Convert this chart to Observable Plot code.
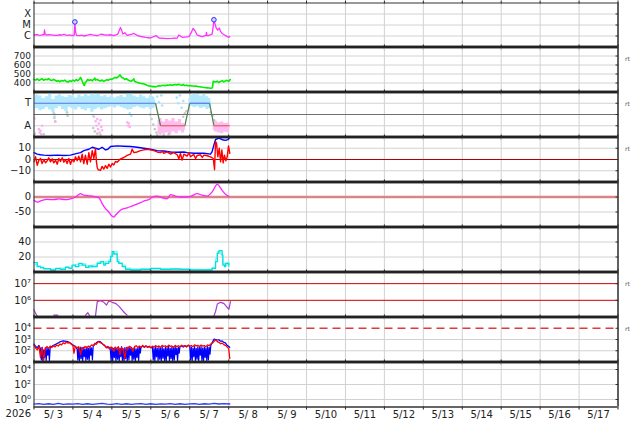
<!DOCTYPE html>
<html><head><meta charset="utf-8">
<script src="https://cdn.jsdelivr.net/npm/d3@7"></script>
<script src="https://cdn.jsdelivr.net/npm/@observablehq/plot@0.6"></script>
<style>
html,body{margin:0;padding:0;background:#fff;}
#chart{position:relative;width:634px;height:424px;overflow:hidden;font-family:"DejaVu Sans",sans-serif;}
</style></head><body><div id="chart"></div>
<script>
// ---------- data (hours since 2026-05-03 00:00 UTC, value) ----------
const dayLabels = ["5/ 3","5/ 4","5/ 5","5/ 6","5/ 7","5/ 8","5/ 9","5/10","5/11","5/12","5/13","5/14","5/15","5/16","5/17"];
const yearLabel = "2026";

const xrayTicks = [1e-4, 1e-5, 1e-6], xrayLabels = ["X","M","C"];
const xray = [[0,1.2e-6],[1,1.35e-6],[2,1.3e-6],[3,1.2e-6],[4,1.15e-6],[5,1.3e-6],[6.1,1.3e-6],[6.5,3.5e-6],[6.9,1.4e-6],[7.7,1.2e-6],[9,1.3e-6],[11,1.25e-6],[12.5,1.15e-6],[14.3,1.15e-6],[16,1.3e-6],[17,1.2e-6],[18.4,1.4e-6],[20.4,1.15e-6],[22,1.25e-6],[23.5,1.07e-6],[24.8,1.2e-6],[25.2,1.9e-5],[25.6,2.5e-6],[26.2,1.15e-6],[28,1.1e-6],[29.5,1.2e-6],[30.7,1.0e-6],[33,1.2e-6],[34.8,1.4e-6],[36,1.25e-6],[37,1.2e-6],[39,1.07e-6],[40.5,1.3e-6],[41.4,1.5e-6],[43,1.3e-6],[45.1,1.2e-6],[47,1.3e-6],[49.2,1.07e-6],[51.7,1.5e-6],[52.5,3e-6],[53.3,6.1e-6],[54.1,3e-6],[54.8,1.5e-6],[56,2.0e-6],[57.4,1.15e-6],[59,1.3e-6],[60.5,1.5e-6],[61.6,1.7e-6],[63.6,1.15e-6],[66,9e-7],[68.7,7.6e-7],[71.8,6.6e-7],[75.3,1.07e-6],[77,6.6e-7],[80,6e-7],[82.1,5.7e-7],[85,6e-7],[88.3,6.6e-7],[89.3,1.23e-6],[91.3,7.6e-7],[93,8e-7],[95.5,8.7e-7],[96.9,2e-6],[98.1,5e-6],[99.2,3e-6],[100.6,1.23e-6],[103.7,8.7e-7],[106,1.15e-6],[106.3,2.1e-6],[106.6,1.1e-6],[107.4,1.07e-6],[109.8,1.5e-6],[110.5,8e-6],[110.9,3.0e-5],[111.5,1.4e-5],[112.3,5.3e-6],[113.3,3.5e-6],[114.2,5.3e-6],[115,2.6e-6],[116,1.7e-6],[118.1,1.07e-6],[120.1,7.6e-7],[120.7,8.7e-7]];
const flares = [[25.2,1.9e-5],[110.9,3.0e-5]];

const windTicks = [400,500,600,700];
const wind = [[0,440],[1,432],[2,446],[3,428],[4,438],[5,447],[6,430],[7,441],[8,436],[9,449],[10,433],[11,427],[12,440],[13,430],[14,419],[15,426],[16,414],[17,428],[18,421],[19,432],[20,416],[21,410],[22,424],[23,418],[24,432],[25,420],[26,438],[27,425],[28,442],[28.7,462],[29.5,430],[30.3,395],[31,372],[31.6,405],[32.5,420],[33,440],[34,428],[35,436],[36,424],[37,445],[37.5,455],[38,432],[39,440],[40,427],[41,422],[42,433],[43,418],[44,428],[45,437],[46,431],[47,444],[48,440],[49,452],[50,462],[51,456],[52,470],[53,490],[53.5,478],[54,462],[55,455],[56,440],[57,448],[58,432],[59,425],[60,420],[61,436],[61.5,446],[62,420],[63,410],[64,404],[65,400],[66,395],[67,393],[68,388],[69,380],[70,373],[71,368],[72,364],[73,360],[74,362],[75,357],[76,365],[77,370],[78,367],[79,372],[80,374],[81,370],[82,378],[83,375],[84,380],[85,376],[86,379],[87,383],[88,378],[89,386],[90,380],[91,376],[92,382],[93,372],[94,376],[95,370],[96,373],[97,368],[98,366],[99,363],[100,366],[101,360],[102,358],[103,355],[104,352],[105,350],[106,348],[107,346],[108,344],[109,342],[110,348],[110.5,420],[111,415],[112,412],[113,420],[114,405],[115,418],[116,426],[117,412],[118,423],[119,430],[120,418],[121,438]];

const sectorTicks = [1,-1], sectorLabels = ["T","A"];
const sectorPts = [[0,1],[74.9,1],[78,-1],[93,-1],[96,1],[108.2,1],[110.9,-1],[120.7,-1]];
const blueBand1 = [[0,0.39,1.52],[2,0.54,1.73],[4,0.33,1.64],[6,0.45,1.43],[8,0.63,1.58],[10,0.39,1.82],[12,0.15,1.34],[14,0.54,1.64],[16,0.68,1.76],[18,0.45,1.58],[20,0.24,1.52],[22,0.63,1.70],[24,0.51,1.64],[26,0.39,1.46],[28,0.63,1.73],[30,0.45,1.58],[32,0.33,1.82],[34,0.54,1.64],[36,0.21,1.88],[38,0.45,1.73],[40,0.57,1.82],[42,0.39,1.58],[44,0.51,1.70],[46,0.63,1.52],[48,0.69,1.64],[50,0.57,1.46],[52,0.74,1.58],[54,0.63,1.70],[56,0.51,1.52],[58,0.39,1.82],[60,0.45,1.88],[62,0.63,1.64],[64,0.69,1.52],[66,0.57,1.73],[68,0.51,1.58],[70,0.63,1.43],[72,0.45,1.64],[74,0.54,1.52],[75,0.69,1.28]];
const blueBand2 = [[95.5,0.69,1.43],[97,0.74,1.73],[99,0.63,1.88],[101,0.69,1.76],[103,0.54,1.64],[105,0.63,1.82],[107,0.45,1.58],[108.5,0.54,1.43],[109.5,0.39,1.13]];
const pinkBand1 = [[76.5,-1.70,-0.51],[78,-1.85,-0.36],[80,-1.70,-0.66],[82,-1.64,-0.45],[84,-1.82,-0.57],[86,-1.55,-0.36],[88,-1.70,-0.66],[90,-1.46,-0.45],[92,-1.64,-0.80],[93.5,-1.40,-0.95]];
const pinkBand2 = [[110.5,-1.40,-0.66],[112,-1.55,-0.57],[114,-1.64,-0.74],[116,-1.70,-0.66],[118,-1.58,-0.80],[120,-1.64,-0.74],[120.7,-1.55,-0.80]];
const blueDots = [[71,1.2],[72,0.9],[73,1.5],[76,1.6],[77,1.1],[78.5,1.7],[79,0.8],[88,1.5],[89,1.0],[90,1.7],[91,0.6],[92,1.2],[12.5,-0.2],[13,0.0],[20.2,0.0],[36.5,-0.1],[59,0.1],[60,-0.1]];
const pinkDots = [[0.3,-0.36],[3,-1.3],[3.5,-1.6],[4,-1.45],[4.5,-1.75],[5,-1.0],[37,-0.2],[38,-0.6],[38.5,-1.0],[39,-0.4],[39.5,-1.3],[40,-0.8],[40.5,-1.6],[41,-0.5],[41.5,-1.1],[42,-1.4],[57.5,-0.7],[58,-1.0],[58.5,-0.8],[59,-1.1],[13.2,-0.65]];
const grayDots = [[12.2,0.1],[12.6,-0.3],[13,-0.6],[20.4,0.2],[20.8,-0.1],[36.5,-1.2],[37.5,-1.5],[39,-1.7],[41,-1.8],[71.5,0.0],[72.5,-0.4],[73.5,-0.9],[74.5,-1.3],[75.5,-1.6],[76,-1.8],[80,-1.8],[83,-1.75],[92,-0.2],[93,0.1],[94,0.3],[109,0.2],[110,-0.1],[111,-0.5],[0.5,-1.7],[6,-1.75]];

const imfTicks = [10,0,-10], imfLabels = ["10","0","\u221210"];
const bt = [[0,6.1],[2,4.8],[4,4.2],[6.1,3.9],[10.2,3.6],[14.3,3.9],[18.4,3.6],[22.5,3.9],[26.6,5.5],[28.7,6.1],[30.7,7.9],[33.8,9.1],[35.9,10.9],[37.9,10],[40,9.1],[42,10.9],[44.1,8.5],[45.5,9.1],[47.2,11.5],[51.3,12.1],[55.4,11.8],[59.5,11.5],[63.6,10.9],[67.7,10],[71.8,9.1],[75.9,7.9],[80,7.6],[84.2,6.7],[88.3,6.4],[92.4,6.7],[94.4,6.1],[98.5,5.5],[104.7,5.5],[108.8,4.8],[109.8,7],[110.9,13],[111.9,17.6],[114,19.1],[116,17.6],[118.1,17],[119.5,17.6],[120.7,19.8]];
const bz = [[0,-2.1],[1,2.4],[2,-5.2],[3,-0.6],[4,0.9],[5,-3.6],[6.1,0],[7.1,-3],[8.1,-1.2],[9.1,1.5],[10.2,-2.1],[11.2,0.6],[12.2,-3],[13.3,-0.6],[14.3,-4.2],[15.3,0.9],[16.3,-1.8],[17.4,1.5],[18.4,-2.4],[19.4,0],[20.4,-3.6],[21.5,0.9],[22.5,-4.2],[23.5,0],[24.6,-2.1],[25.6,2.4],[26.6,-1.2],[27.6,3],[28.7,-2.1],[29.7,4.8],[30.7,-3.6],[31.7,3.9],[32.8,-4.2],[33.8,6.1],[34.8,-2.1],[35.9,7.9],[36.9,0.9],[37.9,9.7],[38.5,-2.1],[39,-7.3],[39.6,-9.1],[41,-9.7],[42,-6.1],[43,-8.5],[44.1,-5.5],[45.1,-7.9],[46.1,-4.2],[47.2,-6.7],[48.2,-3.6],[49.2,-4.8],[50.2,-1.8],[51.3,-2.4],[53.3,0.6],[55.4,1.8],[57.4,3.6],[59.5,4.8],[60.5,9.1],[61.6,6.1],[63.6,6.7],[65.7,7.9],[67.7,8.5],[69.8,9.1],[71.8,8.5],[73.9,7.9],[75.9,6.7],[78,6.1],[79,7.3],[80,5.5],[82.1,6.7],[84.2,4.8],[86.2,6.1],[88.3,4.2],[89.3,0.6],[90.3,5.5],[91.3,-0.6],[92.4,4.8],[94.4,3],[95.5,6.1],[96.5,2.4],[98.5,4.5],[99.6,0.9],[100.6,3.6],[102.6,4.2],[103.7,1.8],[104.7,3.9],[106.8,3.3],[108.8,2.4],[110.5,0.9],[111.3,-9.1],[111.9,16],[112.5,14.5],[113.3,2.4],[114.2,10],[115,-2.1],[115.8,8.5],[116.6,-3],[117.4,3.9],[118.3,-1.2],[119.1,2.4],[119.9,12.1],[120.7,5.5]];

const dstTicks = [0,-50];
const dst = [[0,-11],[2,-17],[5,-11],[8.1,-8],[12.2,-9],[15.3,-6],[19.4,-9],[22.5,-6],[25.6,0],[28.7,11],[30.7,6],[33.8,4],[36.9,2],[40,-2],[42,-22],[44.1,-39],[46.1,-50],[48.2,-64],[49.2,-67],[50.2,-61],[53.3,-44],[57.4,-36],[61.5,-28],[65.7,-19],[68.7,-11],[70.8,-9],[72.9,0],[75.9,3],[79,-2],[82.1,-6],[84.2,8],[87.2,3],[90.3,0],[93.4,0],[96.5,2],[100.6,11],[103.7,6],[106.8,3],[109.8,17],[113,42],[116,22],[118.1,9],[120.1,2]];

const densTicks = [20,40];
const dens1 = [[0,12.4],[1,12.4],[2,7.1],[4,6.2],[6,4.4],[10.2,2.7],[13.3,4.9],[16.3,3.6],[19.4,6.2],[21.5,4.9],[23.5,9.3],[25.6,7.1],[27.6,11.5],[29.7,9.3],[31.8,6.2],[33.8,8],[35.9,7.1],[39,11.5],[41,13.8],[43,9.3],[44.1,11.5],[46.1,13.8],[47.2,20.4],[48.2,27.1],[49.2,24],[50.2,24],[51.3,13.8],[52.3,11.5],[54.4,7.1],[56.4,3.6],[59.5,2.7],[65.7,3.6],[71.8,4.9],[78,3.6],[84.2,4],[90.3,3.6],[96.5,2.7],[102.7,2.7],[106.8,2.7],[109.8,4.9],[111.9,13.8],[113,24.9],[114,28.4],[115,28.4],[116,22.6],[116.4,9.3],[117.4,7.1],[118.1,11.5],[119.1,11.5],[120.1,8]];
const dens2 = [[0,10],[1,10],[2,8],[4,5],[6,4],[10.2,3.5],[13.3,4],[16.3,5],[19.4,7],[21.5,6],[23.5,8],[25.6,10],[27.6,9],[29.7,11],[31.8,8],[33.8,6],[35.9,9],[39,13],[41,12],[43,11],[44.1,14],[46.1,16],[47.2,22],[48.2,24],[49.2,27],[50.2,27],[51.3,17],[52.3,12],[54.4,9],[56.4,5],[59.5,4],[65.7,4.5],[71.8,4],[78,4.5],[84.2,3.5],[90.3,4],[96.5,3.5],[102.7,3],[106.8,3.5],[109.8,6],[111.9,18],[113,27],[114,27],[115,24],[116,20],[116.4,12],[117.4,10],[118.1,9],[119.1,13],[120.1,10]];

const p7Ticks = [1e6,1e7], p7Labels = ["10\u2076","10\u2077"];
const electrons = [[0,2.6e5],[1,1.66e5],[2,1.15e5],[2.5,null],[12.2,1.3e5],[14.7,1.3e5],[15,null],[31.8,1.3e5],[33.2,1.8e5],[34.4,1.15e5],[35,null],[37.9,1.15e5],[39,8.3e5],[41,9.5e5],[43.1,7.6e5],[44.7,5.2e5],[46.1,9.1e5],[48.2,7.6e5],[50.2,6.6e5],[52.3,4.5e5],[54.4,2.6e5],[55.8,1.8e5],[57.4,1.3e5],[58,null],[110.9,1.15e5],[111.9,2.1e5],[113,6e5],[115,7.6e5],[117,6.6e5],[119.1,3.8e5],[120.1,2.9e5],[121.1,8.3e5]];

const p8Ticks = [1e2,1e3,1e4], p8Labels = ["10\u00b2","10\u00b3","10\u2074"];
const p8Red = [[0,330],[1,170],[2,120],[3,250],[4,25],[5,200],[6,15],[7,180],[8,230],[9,160],[10,260],[11,190],[12,280],[13,220],[14,330],[15,260],[16,400],[17,330],[18,520],[19,420],[20,600],[21,480],[22,560],[23,380],[24,300],[24.6,60],[25.5,250],[26.5,180],[27.5,230],[28.7,45],[29.5,200],[30.5,150],[31.5,240],[32.5,170],[33.5,260],[34.5,220],[35.5,330],[36.5,290],[37.5,440],[38.5,380],[39.5,650],[40.5,560],[41.5,480],[42.5,380],[43.5,300],[44.5,190],[45.5,240],[46.5,140],[47.5,220],[48.5,170],[49.3,85],[50,200],[51,150],[52,230],[53,43],[54,190],[55,140],[56,21],[57,200],[58,160],[59,250],[60,180],[61,85],[62,230],[63,280],[64,200],[65,260],[66,190],[67,300],[68,220],[69,270],[70,200],[71,250],[72,180],[73,260],[74,210],[75,290],[76,220],[77,270],[78,200],[79,300],[80,240],[81,280],[82,210],[83,320],[84,240],[85,270],[86,200],[87,300],[88,230],[89,280],[90,220],[91,310],[92,250],[93,290],[94,210],[95,320],[96,260],[97,290],[98,230],[99,330],[100,270],[101,300],[102,240],[103,320],[104,260],[105,290],[106,230],[107,330],[108,280],[109,400],[110,480],[111,700],[112,900],[113,650],[114,560],[115,420],[116,480],[117,350],[118,300],[119,220],[120,160],[120.7,20]];
const p8Blue = [[0,400],[1,250],[2,180],[3,300],[4,150],[4.5,15],[5,200],[5.5,12],[6,120],[6.5,25],[7,170],[7.5,13],[8,210],[8.5,40],[9,150],[9.5,14],[10,220],[11,250],[12,300],[13,350],[14,420],[15,500],[16,620],[17,700],[18,760],[19,720],[20,680],[21,640],[22,520],[23,420],[24,330],[25,260],[26,200],[26.6,140],[27,15],[27.5,180],[28,13],[28.5,210],[29,20],[29.5,160],[30,12],[30.5,200],[31,30],[31.5,150],[32,14],[32.5,220],[33,18],[33.5,170],[34,13],[34.5,230],[35,40],[35.5,180],[36,15],[36.5,260],[37,300],[38,450],[39,600],[40,700],[41,620],[42,450],[43,320],[44,250],[45,180],[46,220],[47,150],[47.5,14],[48,190],[48.5,12],[49,160],[49.5,25],[50,210],[50.5,13],[51,140],[51.5,18],[52,200],[52.5,12],[53,170],[53.5,30],[54,230],[54.5,14],[55,150],[55.5,12],[56,190],[56.5,20],[57,160],[57.5,13],[58,220],[58.5,15],[59,180],[59.5,40],[60,200],[60.5,13],[61,170],[61.5,18],[62,210],[62.5,12],[63,150],[63.5,25],[64,190],[64.5,14],[65,230],[65.5,60],[66,220],[67,250],[68,200],[69,260],[70,210],[71,240],[72,190],[73,200],[73.5,15],[74,180],[74.5,12],[75,220],[75.5,30],[76,160],[76.5,13],[77,200],[77.5,18],[78,170],[78.5,12],[79,230],[79.5,22],[80,150],[80.5,14],[81,210],[81.5,12],[82,180],[82.5,35],[83,240],[83.5,13],[84,160],[84.5,20],[85,220],[85.5,12],[86,190],[86.5,15],[87,250],[87.5,45],[88,170],[88.5,13],[89,210],[89.5,60],[90,240],[91,270],[92,210],[93,290],[94,240],[95,300],[96,250],[96.5,15],[97,210],[97.5,12],[98,170],[98.5,30],[99,230],[99.5,13],[100,160],[100.5,18],[101,220],[101.5,12],[102,190],[102.5,40],[103,240],[103.5,14],[104,170],[104.5,12],[105,210],[105.5,25],[106,180],[106.5,13],[107,230],[107.5,15],[108,200],[108.5,50],[109,300],[110,600],[111,1100],[112,1000],[113,900],[114,950],[115,700],[116,750],[117,550],[118,500],[119,300],[120,250],[120.7,200]];

const p9Ticks = [1,1e2,1e4], p9Labels = ["10\u2070","10\u00b2","10\u2074"];
const p9 = [[0,0.24],[3,0.29],[6,0.22],[9,0.27],[12,0.23],[15,0.3],[18,0.22],[21,0.26],[24,0.24],[27,0.29],[30,0.22],[33,0.27],[36,0.23],[39,0.26],[42,0.3],[45,0.24],[48,0.22],[51,0.28],[54,0.23],[57,0.27],[60,0.22],[63,0.26],[66,0.29],[69,0.23],[72,0.27],[75,0.22],[78,0.26],[81,0.24],[84,0.29],[87,0.22],[90,0.27],[93,0.23],[96,0.26],[99,0.28],[102,0.22],[105,0.27],[108,0.24],[111,0.3],[114,0.25],[117,0.28],[120.7,0.25]];

// ---------- helpers ----------
const T0 = Date.UTC(2026, 4, 3);
const toDate = h => new Date(T0 + h * 3600e3);
const X = d => toDate(d[0]);
const Y = d => d[1];
const dayBounds = d3.range(dayLabels.length + 1).map(i => toDate(i * 24));
const dayNoons = dayLabels.map((_, i) => toDate(i * 24 + 12));
const dayLabelMap = new Map(dayNoons.map((d, i) => [+d, dayLabels[i]]));
const X0 = dayBounds[0], X1 = dayBounds[dayBounds.length - 1];
const tops = [2.5, 46.5, 91.5, 136.5, 181.5, 226.5, 271.5, 316.5, 361.5, 406.5];
const FONT = "DejaVu Sans";
const GRID = "#d2d2d2";
const chart = document.getElementById("chart");

function labelFmt(ticks, labels) {
  const m = new Map(ticks.map((t, i) => [t, labels[i]]));
  return d => m.has(d) ? m.get(d) : "";
}

function panel(i, {y, ticks, labels, grid, marks, rt = false, fs = 10}) {
  const top = tops[i], bottom = tops[i + 1];
  const last = i === 8;
  const svgTop = Math.floor(top) - 6;
  const mt = top - svgTop;
  const mb = last ? 424 - bottom : 6;
  const yd = y.domain;
  const m = [
    Plot.ruleX(dayBounds, {stroke: GRID}),
    ...marks,
    Plot.axisY({ticks, tickSize: 0, tickPadding: 3, fontSize: fs, tickFormat: labelFmt(ticks, labels || ticks.map(String)), label: null}),
    Plot.axisY({anchor: "right", ticks: grid, tickSize: -3, tickFormat: () => "", label: null, stroke: "#333"}),
    Plot.axisX({anchor: "top", ticks: dayBounds, tickSize: 3, tickFormat: () => "", label: null, stroke: "#222"}),
    Plot.axisX({anchor: "bottom", ticks: dayBounds, tickSize: 3, tickFormat: () => "", label: null, stroke: "#222"}),
    Plot.ruleX([X0], {stroke: "#333"}),
    Plot.ruleX([X1], {stroke: "#333", strokeWidth: 1.5}),
    i === 0 ? Plot.ruleY([yd[1]], {stroke: "#333", strokeWidth: 1}) : Plot.ruleY([yd[1]], {stroke: "#222", strokeWidth: 2.5}),
    last ? Plot.ruleY([yd[0]], {stroke: "#333", strokeWidth: 1.5}) : Plot.ruleY([yd[0]], {stroke: "#222", strokeWidth: 2.5})
  ];
  if (rt) m.push(Plot.text(["rt"], {text: d => d, frameAnchor: "top-right", dx: 7, dy: 10, textAnchor: "start", fontSize: 6, fill: "#555"}));
  if (last) {
    m.push(Plot.axisX({anchor: "bottom", ticks: dayNoons, tickSize: 0, tickPadding: 4, fontSize: 10, tickFormat: d => dayLabelMap.get(+d), label: null}));
    m.push(Plot.text([yearLabel], {text: d => d, frameAnchor: "bottom-left", dx: -3, dy: 9.5, textAnchor: "end", fontSize: 10}));
  }
  const svg = Plot.plot({
    width: 634, height: mt + (bottom - top) + mb,
    marginLeft: 33.5, marginRight: 16.5, marginTop: mt, marginBottom: mb,
    x: {type: "utc", domain: [X0, X1]},
    y,
    style: {background: "transparent", overflow: "visible", fontFamily: FONT, fontSize: "10px", color: "#222"},
    marks: m
  });
  svg.style.position = "absolute";
  svg.style.top = svgTop + "px";
  svg.style.left = "0px";
  chart.appendChild(svg);
}

const sectorSegs = d3.pairs(sectorPts);
const bandMark = (data, fill) => Plot.areaY(data, {x: X, y1: d => d[1], y2: d => d[2], fill, curve: "step"});

// 1 X-ray
panel(0, {y: {type: "log", domain: [1e-7, 1e-3]}, ticks: xrayTicks, labels: xrayLabels, grid: xrayTicks, marks: [
  Plot.ruleY(xrayTicks, {stroke: GRID}),
  Plot.line(xray, {x: X, y: Y, stroke: "#ff33ff", strokeWidth: 1.3}),
  Plot.dot(flares, {x: X, y: Y, r: 2.3, stroke: "#2a2aff", fill: "#d4d4ff", strokeWidth: 1})
]});
// 2 solar wind
panel(1, {y: {domain: [300, 800]}, ticks: windTicks, grid: windTicks, rt: true, fs: 9, marks: [
  Plot.ruleY(windTicks, {stroke: GRID}),
  Plot.line(wind, {x: X, y: Y, stroke: "#00ee00", strokeWidth: 1.6})
]});
// 3 sector
panel(2, {y: {domain: [-2, 2]}, ticks: sectorTicks, labels: sectorLabels, grid: [1, 0, -1], rt: true, marks: [
  Plot.ruleY(sectorTicks, {stroke: GRID}),
  bandMark(blueBand1, "#b3e9fd"), bandMark(blueBand2, "#b3e9fd"),
  bandMark(pinkBand1, "#fdbdf0"), bandMark(pinkBand2, "#fdbdf0"),
  Plot.dot(grayDots, {x: X, y: Y, r: 1.3, fill: "#c8c8c8"}),
  Plot.dot(pinkDots, {x: X, y: Y, r: 1.3, fill: "#fdb0ee"}),
  Plot.dot(blueDots, {x: X, y: Y, r: 1.3, fill: "#a8e4fc"}),
  Plot.ruleY([0], {stroke: "#707070"}),
  Plot.link(sectorSegs, {x1: s => toDate(s[0][0]), y1: s => s[0][1], x2: s => toDate(s[1][0]), y2: s => s[1][1],
    stroke: s => s[0][1] === s[1][1] ? (s[0][1] > 0 ? "#5b6fe6" : "#e65b5b") : "#4f7f4f", strokeWidth: 1.2})
]});
// 4 IMF
panel(3, {y: {domain: [-20, 20]}, ticks: imfTicks, labels: imfLabels, grid: imfTicks, rt: true, marks: [
  Plot.ruleY([10, -10], {stroke: GRID}),
  Plot.ruleY([0], {stroke: "#b00000"}),
  Plot.line(bt, {x: X, y: Y, stroke: "#0000ff", strokeWidth: 1.4}),
  Plot.line(bz, {x: X, y: Y, stroke: "#ff0000", strokeWidth: 1.4})
]});
// 5 Dst
panel(4, {y: {domain: [-100, 50]}, ticks: dstTicks, grid: dstTicks, marks: [
  Plot.ruleY([-50], {stroke: GRID}),
  Plot.ruleY([0], {stroke: "#d98585", strokeWidth: 2.5}),
  Plot.line(dst, {x: X, y: Y, stroke: "#ff22ff", strokeWidth: 1.3, curve: "monotone-x"})
]});
// 6 density
panel(5, {y: {domain: [0, 60]}, ticks: densTicks, grid: densTicks, marks: [
  Plot.ruleY(densTicks, {stroke: GRID}),
  Plot.line(dens2, {x: X, y: Y, stroke: "#8ff4f4", strokeWidth: 1.3, curve: "step-after"}),
  Plot.line(dens1, {x: X, y: Y, stroke: "#00e0e0", strokeWidth: 1.3, curve: "step-after"})
]});
// 7 electrons
panel(6, {y: {type: "log", domain: [1e5, 5e7]}, ticks: p7Ticks, labels: p7Labels, grid: p7Ticks, rt: true, marks: [
  Plot.ruleY(p7Ticks, {stroke: "#cc0000"}),
  Plot.line(electrons, {x: X, y: Y, stroke: "#a040c8", strokeWidth: 1.2})
]});
// 8 particles
panel(7, {y: {type: "log", domain: [10, 1e5]}, ticks: p8Ticks, labels: p8Labels, grid: p8Ticks, rt: true, marks: [
  Plot.ruleY([1e2, 1e3], {stroke: GRID}),
  Plot.ruleY([1e4], {stroke: "#e03a3a", strokeWidth: 1.5, strokeDasharray: "8,5"}),
  Plot.line(p8Blue, {x: X, y: Y, stroke: "#0000ff", strokeWidth: 1.2}),
  Plot.line(p8Red, {x: X, y: Y, stroke: "#ff0000", strokeWidth: 1.3})
]});
// 9 protons
panel(8, {y: {type: "log", domain: [0.1, 1e5]}, ticks: p9Ticks, labels: p9Labels, grid: p9Ticks, marks: [
  Plot.ruleY(p9Ticks, {stroke: GRID}),
  Plot.line(p9, {x: X, y: Y, stroke: "#2a3cff", strokeWidth: 1.3})
]});
</script></body></html>
